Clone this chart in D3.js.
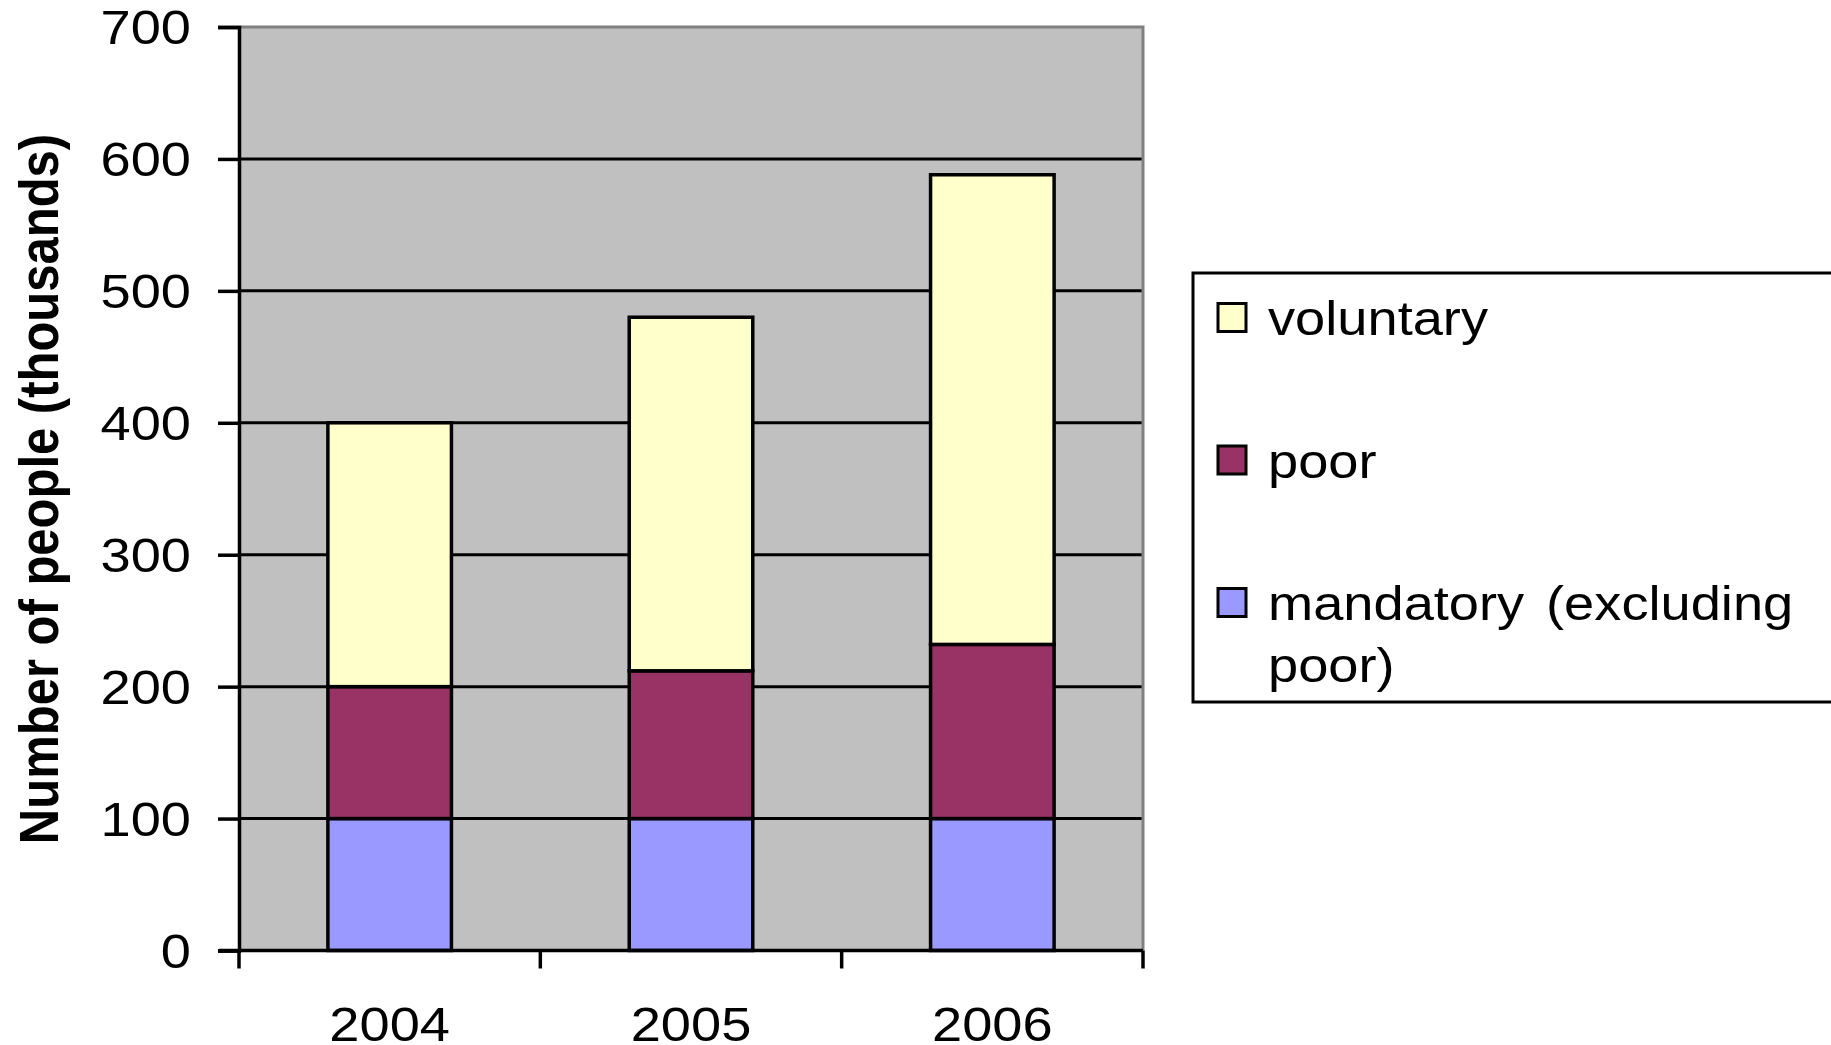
<!DOCTYPE html>
<html>
<head>
<meta charset="utf-8">
<script src="https://cdn.jsdelivr.net/npm/d3@7"></script>
<style>
  html, body { margin: 0; padding: 0; background: #fff; }
  svg { display: block; font-family: "Liberation Sans", Arial, sans-serif; }
</style>
</head>
<body>
<div id="chart"></div>
<script>
// ---- data ----
const years = ["2004", "2005", "2006"];
const mandatory = [100, 100, 100];
const poor = [100, 112, 132];
const voluntary = [200, 268, 356];
const yTicks = [0, 100, 200, 300, 400, 500, 600, 700];
const seriesNames = ["mandatory (excluding poor)", "poor", "voluntary"];
const seriesColors = ["#9999ff", "#993366", "#ffffcc"];

// ---- layout ----
const W = 1831, H = 1045;
const plot = { left: 239, right: 1143, top: 27, bottom: 950.5 };
const SX = 1.13; // source text is a bit stretched sideways

const svg = d3.select("#chart").append("svg")
  .attr("width", W).attr("height", H);

const x = d3.scaleBand().domain(years).range([plot.left, plot.right]).padding(0);
const y = d3.scaleLinear().domain([0, 700]).range([plot.bottom, plot.top]);
const barW = x.bandwidth() * 0.41;

// background
svg.append("rect")
  .attr("x", plot.left).attr("y", plot.top)
  .attr("width", plot.right - plot.left).attr("height", plot.bottom - plot.top)
  .attr("fill", "#c0c0c0");

// gridlines
svg.append("g").selectAll("line")
  .data(yTicks.filter(t => t > 0 && t < 700))
  .join("line")
  .attr("x1", plot.left).attr("x2", plot.right)
  .attr("y1", d => y(d)).attr("y2", d => y(d))
  .attr("stroke", "#000").attr("stroke-width", 3);

// top + right frame (grey)
svg.append("path")
  .attr("d", `M${plot.left},${y(700)}H${plot.right}V${plot.bottom}`)
  .attr("fill", "none").attr("stroke", "#808080").attr("stroke-width", 3);

// stacked bars
const stack = d3.stack().keys([0, 1, 2]).value((d, k) => d[k]);
const rows = years.map((yr, i) => Object.assign([mandatory[i], poor[i], voluntary[i]], { year: yr }));
const layers = stack(rows);

svg.append("g").selectAll("g")
  .data(layers)
  .join("g")
  .attr("fill", (d, i) => seriesColors[i])
  .selectAll("rect")
  .data(d => d)
  .join("rect")
  .attr("x", d => x(d.data.year) + (x.bandwidth() - barW) / 2)
  .attr("width", barW)
  .attr("y", d => y(d[1]))
  .attr("height", d => y(d[0]) - y(d[1]))
  .attr("stroke", "#000").attr("stroke-width", 3.5);

// y axis
const yAxis = svg.append("g")
  .attr("transform", `translate(${plot.left},0)`)
  .call(d3.axisLeft(y).tickValues(yTicks).tickSize(21).tickPadding(0).tickFormat(d3.format("d")));
yAxis.select(".domain").attr("stroke", "#000").attr("stroke-width", 3.5);
yAxis.selectAll(".tick line").attr("stroke", "#000").attr("stroke-width", 3.5);
yAxis.selectAll(".tick text")
  .attr("x", null).attr("dy", "0.35em")
  .attr("transform", `translate(-48,0) scale(${SX},1)`)
  .attr("font-size", 48).attr("fill", "#000")
  .attr("font-family", "Liberation Sans, Arial, sans-serif");

// x axis (ticks at category boundaries)
const xg = svg.append("g");
xg.append("line")
  .attr("x1", plot.left - 20).attr("x2", plot.right)
  .attr("y1", plot.bottom).attr("y2", plot.bottom)
  .attr("stroke", "#000").attr("stroke-width", 3.5);
const bounds = years.map(d => x(d)).concat([x(years[years.length - 1]) + x.bandwidth()]);
xg.selectAll("line.xt")
  .data(bounds)
  .join("line")
  .attr("class", "xt")
  .attr("x1", d => d).attr("x2", d => d)
  .attr("y1", plot.bottom).attr("y2", plot.bottom + 18)
  .attr("stroke", "#000").attr("stroke-width", 3.5);
xg.selectAll("text")
  .data(years)
  .join("text")
  .attr("transform", d => `translate(${x(d) + x.bandwidth() / 2},1041) scale(${SX},1)`)
  .attr("text-anchor", "middle")
  .attr("font-size", 48)
  .text(d => d);

// y axis title
svg.append("text")
  .attr("transform", `translate(58,489) scale(${SX},1) rotate(-90)`)
  .attr("text-anchor", "middle")
  .attr("font-size", 49).attr("font-weight", "bold")
  .text("Number of people (thousands)");

// legend
const lg = svg.append("g");
lg.append("rect")
  .attr("x", 1193).attr("y", 273)
  .attr("width", 700).attr("height", 429)
  .attr("fill", "#fff").attr("stroke", "#000").attr("stroke-width", 3);

const legendItems = [
  { color: seriesColors[2], lines: ["voluntary"], cy: 317.5 },
  { color: seriesColors[1], lines: ["poor"], cy: 460 },
  { color: seriesColors[0], lines: ["mandatory (excluding", "poor)"], cy: 602.5 }
];
legendItems.forEach(it => {
  lg.append("rect")
    .attr("x", 1218).attr("y", it.cy - 14)
    .attr("width", 28).attr("height", 28)
    .attr("fill", it.color).attr("stroke", "#000").attr("stroke-width", 3);
  it.lines.forEach((ln, j) => {
    lg.append("text")
      .attr("transform", `translate(1268,${it.cy + 17.5 + j * 62}) scale(${SX},1)`)
      .attr("font-size", 48)
      .attr("word-spacing", j === 0 && it.lines.length > 1 ? 6 : 0)
      .text(ln);
  });
});
</script>
</body>
</html>
